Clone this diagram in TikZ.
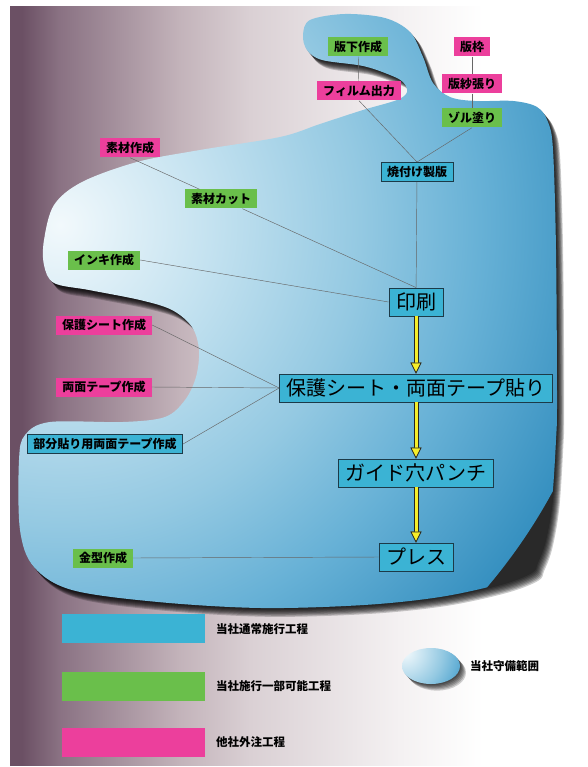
\documentclass[tikz,border=0pt]{standalone}
\usepackage{fontspec}
\newfontfamily\jp{Noto Sans CJK JP}
\usetikzlibrary{arrows.meta}

\definecolor{extpink}{HTML}{EC3F9C}
\definecolor{partgreen}{HTML}{6ABF4B}
\definecolor{owncyan}{HTML}{3BB3D4}
\definecolor{edgeblue}{HTML}{1C3A48}
\definecolor{flowyellow}{HTML}{F6EE2A}
\definecolor{bgA}{HTML}{6B5064}
\definecolor{bgB}{HTML}{8A7283}
\definecolor{bgC}{HTML}{C3B3BA}
\definecolor{bgD}{HTML}{DAD0D4}
\definecolor{bgE}{HTML}{F4F1F2}
\definecolor{blA}{HTML}{F2F9FC}
\definecolor{blB}{HTML}{C4E2F0}
\definecolor{blC}{HTML}{94C9E2}
\definecolor{blD}{HTML}{67B1D6}
\definecolor{blE}{HTML}{3690C0}

\pgfdeclarehorizontalshading{bgshade}{100bp}{color(0bp)=(bgA); color(26bp)=(bgA);
  color(29.3bp)=(bgB); color(39.7bp)=(bgC); color(45.8bp)=(bgD); color(58.8bp)=(bgE);
  color(66bp)=(white); color(100bp)=(white)}
\pgfdeclareradialshading{blobshade}{\pgfpoint{0bp}{0bp}}{color(0bp)=(blA);
  color(6.7bp)=(blB); color(13.4bp)=(blC); color(18.75bp)=(blD); color(25bp)=(blE);
  color(50bp)=(blE)}

% outline of the area we cover
\newcommand\blobpath{plot[smooth cycle, tension=0.55] coordinates {
  (310,20) (345,14) (385,18) (410,32) (423,57) (433,83) (450,97) (475,101)
  (513,101) (537,107) (548,122) (553,150) (556,250) (557,400) (556,440)
  (552,500) (545,540) (537,562) (531,572) (500,584) (440,597) (364,605)
  (261,608) (158,602) (72,590)
  (34,567) (20,530) (19,460) (25,435) (50,422) (123,422) (165,417) (185,400)
  (196,377) (199,350) (192,327) (172,310) (140,300) (89,290) (54,283)
  (44,265) (44,240) (54,205) (82,182) (137,162) (200,150) (280,137)
  (320,124) (363,110) (397,100) (407,92) (403,82) (390,75) (363,66)
  (322,60) (307,50) (303,35)}}

\begin{document}
\begin{tikzpicture}[x=1pt, y=-1pt,
  ext/.style = {fill=extpink, font=\jp\bfseries\fontsize{12}{12}\selectfont,
    minimum height=19pt, inner xsep=6pt, inner ysep=0pt},
  part/.style = {ext, fill=partgreen},
  own/.style = {ext, fill=owncyan, draw=edgeblue, line width=0.9pt},
  proc/.style = {own, font=\jp\fontsize{20}{20}\selectfont, minimum height=28pt, inner xsep=7pt},
  link/.style = {draw=black!60, line width=0.45pt},
  flow/.style = {draw=flowyellow, line width=3pt,
    preaction={draw=black!85, line width=5pt},
    -{Triangle[width=11pt, length=11pt, fill=flowyellow, color=black!85, line width=0.7pt]}},
  swatch/.style = {minimum width=143pt, minimum height=29pt, inner sep=0pt},
  key/.style = {anchor=west, inner sep=0pt, font=\jp\bfseries\fontsize{11.5}{11.5}\selectfont}]

  \useasboundingbox (0,0) rectangle (587,767);
  \shade[shading=bgshade] (10,7) rectangle (587,765);

  % shadow and area
  \foreach \d in {1,...,8}
    \fill[black, opacity=0.2, shift={(\d*0.9,\d*1.1)}] \blobpath;
  \begin{scope}
    \clip \blobpath;
    \shade[shading=blobshade] (60,225) circle (560);
  \end{scope}

  % nodes
  \node[part] (hanshita) at (358,47) {版下作成};
  \node[ext] (waku) at (472,47) {版枠};
  \node[ext] (film) at (359,91) {フィルム出力};
  \node[ext] (shabari) at (472,84) {版紗張り};
  \node[part] (sol) at (472,118) {ゾル塗り};
  \node[own] (yaki) at (417,172) {焼付け製版};
  \node[ext] (sozai) at (130,148) {素材作成};
  \node[part] (cut) at (221,199) {素材カット};
  \node[part] (ink) at (104,260) {インキ作成};
  \node[ext] (hogomake) at (104,325) {保護シート作成};
  \node[ext] (ryomen) at (104,387) {両面テープ作成};
  \node[own] (bubun) at (105,444) {部分貼り用両面テープ作成};
  \node[part] (kanagata) at (103,558) {金型作成};

  \node[proc] (print) at (416,302) {印刷};
  \node[proc] (hogo) at (416,388) {保護シート・両面テープ貼り};
  \node[proc] (guide) at (416,473) {ガイド穴パンチ};
  \node[proc] (press) at (416,557) {プレス};

  % links
  \draw[link] (hanshita) -- (film);
  \draw[link] (waku) -- (shabari);
  \draw[link] (shabari) -- (sol);
  \draw[link] (film.south) -- (yaki.north);
  \draw[link] (sol.south) -- (yaki.north);
  \draw[link] (yaki) -- (print);
  \draw[link] (sozai.south) -- (cut);
  \draw[link] (cut) -- (print.north);
  \draw[link] (ink.east) -- (print.west);
  \draw[link] (hogomake.east) -- (hogo.west);
  \draw[link] (ryomen.east) -- (hogo.west);
  \draw[link] (bubun.east) -- (hogo.west);
  \draw[link] (kanagata.east) -- (press.west);

  \draw[flow] (print) -- (hogo);
  \draw[flow] (hogo) -- (guide);
  \draw[flow] (guide) -- (press);

  % legend
  \node[swatch, fill=owncyan] (keyown) at (133.5,628.5) {};
  \node[swatch, fill=partgreen] (keypart) at (133.5,686) {};
  \node[swatch, fill=extpink] (keyext) at (133.5,742.5) {};
  \node[key] (keyowntext) at (216,629) {当社通常施行工程};
  \node[key] (keyparttext) at (216,686) {当社施行一部可能工程};
  \node[key] (keyexttext) at (216,742) {他社外注工程};

  \foreach \d in {1,...,6}
    \fill[black, opacity=0.18, shift={(\d,\d*1.1)}] (431,666) ellipse [x radius=29, y radius=18];
  \begin{scope}
    \clip (431,666) ellipse [x radius=29, y radius=18];
    \shade[shading=blobshade] (405,652) circle (70);
  \end{scope}
  \node[key] (keyareatext) at (470,666) {当社守備範囲};
\end{tikzpicture}
\end{document}
